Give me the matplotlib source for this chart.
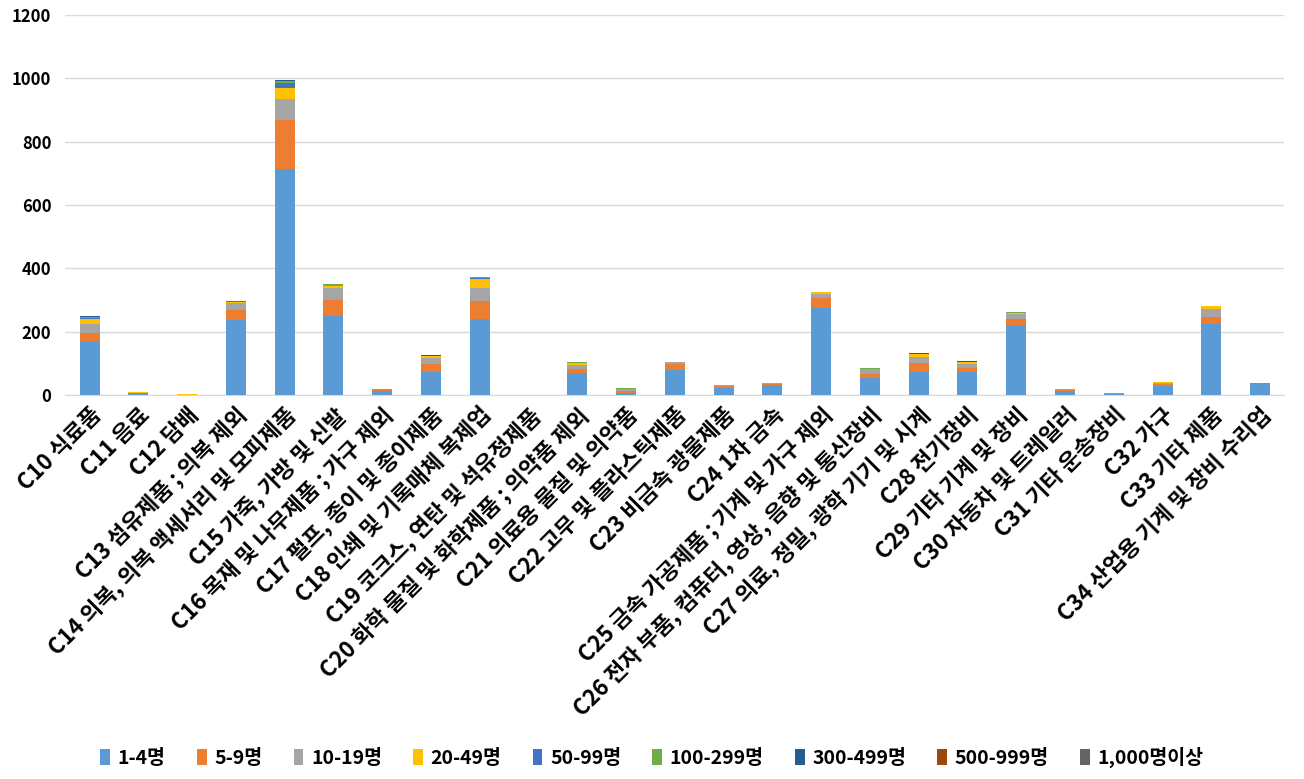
import matplotlib.pyplot as plt
import numpy as np

plt.rcParams['font.family'] = ['Noto Sans CJK KR', 'DejaVu Sans']

categories = ['C10 식료품', 'C11 음료', 'C12 담배', 'C13 섬유제품 ; 의복 제외',
              'C14 의복, 의복 액세서리 및 모피제품', 'C15 가죽, 가방 및 신발',
              'C16 목재 및 나무제품 ; 가구 제외', 'C17 펄프, 종이 및 종이제품',
              'C18 인쇄 및 기록매체 복제업', 'C19 코크스, 연탄 및 석유정제품',
              'C20 화학 물질 및 화학제품 ; 의약품 제외', 'C21 의료용 물질 및 의약품',
              'C22 고무 및 플라스틱제품', 'C23 비금속 광물제품', 'C24 1차 금속',
              'C25 금속 가공제품 ; 기계 및 가구 제외', 'C26 전자 부품, 컴퓨터, 영상, 음향 및 통신장비',
              'C27 의료, 정밀, 광학 기기 및 시계', 'C28 전기장비', 'C29 기타 기계 및 장비',
              'C30 자동차 및 트레일러', 'C31 기타 운송장비', 'C32 가구', 'C33 기타 제품',
              'C34 산업용 기계 및 장비 수리업']

series_names = ['1-4명', '5-9명', '10-19명', '20-49명', '50-99명', '100-299명',
                '300-499명', '500-999명', '1,000명이상']
colors = ['#5B9BD5', '#ED7D31', '#A5A5A5', '#FFC000', '#4472C4', '#70AD47',
          '#255E91', '#9E480E', '#636363']

s1_4 = [170, 5, 0, 238, 714, 250, 12, 74, 240, 0, 69, 7, 79, 22, 31, 275, 54, 73, 73, 221, 13, 3, 28, 224, 38]
s5_9 = [25, 1, 0, 30, 155, 51, 7, 25, 55, 0, 13, 5, 19, 6, 5, 31, 12, 28, 13, 19, 3, 3, 7, 21, 0]
s10_19 = [30, 1, 0, 22, 65, 37, 0, 19, 43, 0, 13, 6, 6, 3, 2, 13, 15, 19, 12, 16, 3, 0, 3, 27, 0]
s20_49 = [15, 2, 3, 4, 36, 6, 0, 5, 28, 0, 6, 0, 0, 0, 0, 6, 1, 9, 6, 3, 0, 0, 3, 9, 0]
s50_99 = [3, 0, 0, 3, 15, 0, 0, 0, 3, 0, 0, 2, 0, 0, 0, 0, 0, 0, 0, 0, 0, 0, 0, 0, 0]
s100_299 = [3, 0, 0, 0, 6, 5, 0, 0, 3, 0, 3, 3, 0, 0, 0, 0, 3, 0, 0, 4, 0, 0, 0, 0, 0]
s300_499 = [3, 0, 0, 0, 2, 0, 0, 3, 0, 0, 0, 0, 0, 0, 0, 0, 0, 4, 3, 0, 0, 0, 0, 0, 0]
s500_999 = [0] * 25
s1000 = [0] * 25

data = [s1_4, s5_9, s10_19, s20_49, s50_99, s100_299, s300_499, s500_999, s1000]

fig = plt.figure(figsize=(13.04, 7.79), dpi=100)
ax = fig.add_axes([0.05, 0.493, 0.935, 0.488])

x = np.arange(len(categories))
bottom = np.zeros(len(categories))
for name, vals, c in zip(series_names, data, colors):
    ax.bar(x, vals, 0.41, bottom=bottom, color=c, label=name, zorder=3)
    bottom += np.array(vals)

ax.set_xlim(-0.5, len(categories) - 0.5)
ax.set_ylim(0, 1200)
ax.set_yticks(range(0, 1201, 200))
ax.yaxis.grid(True, color='#D9D9D9', linewidth=1, zorder=0)
for s in ['top', 'right', 'left']:
    ax.spines[s].set_visible(False)
ax.spines['bottom'].set_color('#D9D9D9')
ax.tick_params(axis='both', length=0)
ax.tick_params(axis='y', labelsize=12, pad=10)
for t in ax.get_yticklabels():
    t.set_fontweight('bold')

ax.set_xticks(x)
ax.set_xticklabels(categories, rotation=45, ha='right', rotation_mode='anchor',
                   fontsize=16, fontweight='bold')
ax.tick_params(axis='x', pad=6)

fig.legend(loc='center', bbox_to_anchor=(0.5, 0.028), ncol=9, frameon=False,
           prop={'size': 14, 'weight': 'bold'}, handlelength=0.5, handleheight=0.9,
           handletextpad=0.4, columnspacing=1.6)

fig.savefig('out.png', dpi=100)
